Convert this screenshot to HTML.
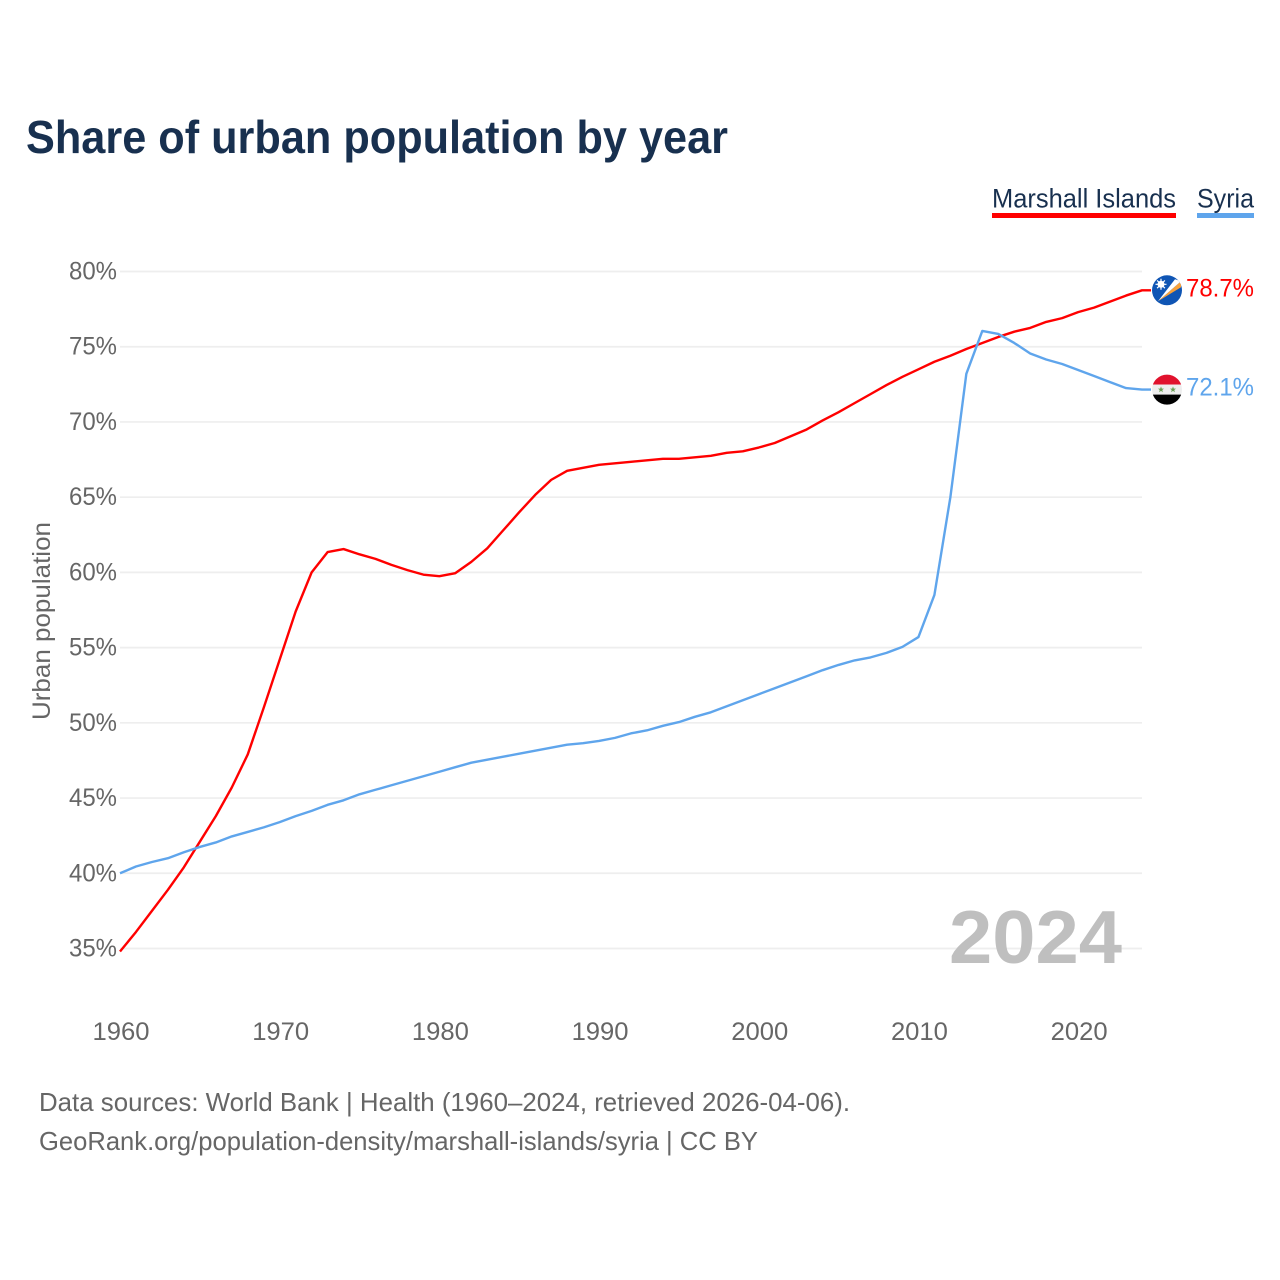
<!DOCTYPE html>
<html lang="en">
<head>
<meta charset="utf-8">
<title>Share of urban population by year</title>
<style>
html,body{margin:0;padding:0;background:#fff;width:1280px;height:1280px;overflow:hidden}
svg{display:block;font-family:"Liberation Sans",sans-serif}
</style>
</head>
<body>
<svg id="chart" xmlns="http://www.w3.org/2000/svg" width="1280" height="1280" viewBox="0 0 1280 1280">
  <defs>
    <clipPath id="flag-clip"><circle cx="0" cy="0" r="15"></circle></clipPath>
  </defs>
  <rect width="1280" height="1280" fill="#fff"></rect>
  <text x="26" y="153" font-size="46" font-weight="700" fill="#18304f" textLength="702" lengthAdjust="spacingAndGlyphs">Share of urban population by year</text>

  <g>
    <text x="992" y="207.5" font-size="27" fill="#18304f" textLength="184" lengthAdjust="spacingAndGlyphs">Marshall Islands</text>
    <rect x="992" y="213" width="184" height="5" fill="#ff0000"></rect>
  </g>
  <g>
    <text x="1197" y="207.5" font-size="27" fill="#18304f" textLength="57" lengthAdjust="spacingAndGlyphs">Syria</text>
    <rect x="1197" y="213" width="57" height="5" fill="#5fa5ec"></rect>
  </g>

  <text transform="translate(50,720) rotate(-90)" font-size="25" fill="#666" textLength="198" lengthAdjust="spacingAndGlyphs">Urban population</text>

  <g id="grid"></g>
  <g id="y-ticks"></g>
  <g id="x-ticks"></g>

  <text x="1122" y="963" text-anchor="end" font-size="75" font-weight="700" fill="#bfbfbf" textLength="173" lengthAdjust="spacingAndGlyphs">2024</text>

  <g id="series"></g>

  <g id="flag-marshall">
    <g clip-path="url(#flag-clip)">
      <rect x="-16" y="-16" width="32" height="32" fill="#0f55b4"></rect>
      <polygon points="-9,11 14,-9 14,-3" fill="#f7a13a"></polygon>
      <polygon points="-9,11 8,-11 14,-9" fill="#ffffff"></polygon>
      <circle cx="-6" cy="-6" r="3.5" fill="#fff"></circle>
      <path d="M-6,-11.5V-0.5M-11.5,-6H-0.5M-9.9,-9.9L-2.1,-2.1M-9.9,-2.1L-2.1,-9.9" stroke="#fff" stroke-width="1.2"></path>
    </g>
  </g>
  <g id="flag-syria">
    <g clip-path="url(#flag-clip)">
      <rect x="-16" y="-16" width="32" height="11" fill="#e1122d"></rect>
      <rect x="-16" y="-5" width="32" height="10" fill="#eeeeee"></rect>
      <rect x="-16" y="5" width="32" height="11" fill="#000000"></rect>
      <polygon points="-6,-3.2 -5.2,-1 -3,-1 -4.7,0.4 -4.1,2.6 -6,1.3 -7.9,2.6 -7.3,0.4 -9,-1 -6.8,-1" fill="#6a9f55"></polygon>
      <polygon points="6,-3.2 6.8,-1 9,-1 7.3,0.4 7.9,2.6 6,1.3 4.1,2.6 4.7,0.4 3,-1 5.2,-1" fill="#6a9f55"></polygon>
    </g>
  </g>

  <g id="end-labels"></g>

  <text x="39" y="1111" font-size="26" fill="#666" textLength="811" lengthAdjust="spacingAndGlyphs">Data sources: World Bank | Health (1960–2024, retrieved 2026-04-06).</text>
  <text x="39" y="1150" font-size="26" fill="#666" textLength="719" lengthAdjust="spacingAndGlyphs">GeoRank.org/population-density/marshall-islands/syria | CC BY</text>
</svg>
<script>
const years = [1960,1961,1962,1963,1964,1965,1966,1967,1968,1969,1970,1971,1972,1973,1974,1975,1976,1977,1978,1979,1980,1981,1982,1983,1984,1985,1986,1987,1988,1989,1990,1991,1992,1993,1994,1995,1996,1997,1998,1999,2000,2001,2002,2003,2004,2005,2006,2007,2008,2009,2010,2011,2012,2013,2014,2015,2016,2017,2018,2019,2020,2021,2022,2023,2024];
const marshallIslands = [34.8,36.1,37.5,38.9,40.4,42.1,43.8,45.7,47.9,51,54.2,57.4,60,61.35,61.55,61.2,60.9,60.5,60.15,59.85,59.75,59.95,60.7,61.6,62.8,64,65.15,66.15,66.75,66.95,67.15,67.25,67.35,67.45,67.55,67.55,67.65,67.75,67.95,68.05,68.3,68.6,69.05,69.5,70.1,70.65,71.25,71.85,72.45,73,73.5,74,74.4,74.85,75.25,75.65,76,76.25,76.65,76.9,77.3,77.6,78,78.4,78.75];
const syria = [40,40.45,40.75,41,41.4,41.75,42.05,42.45,42.75,43.05,43.4,43.8,44.15,44.55,44.85,45.25,45.55,45.85,46.15,46.45,46.75,47.05,47.35,47.55,47.75,47.95,48.15,48.35,48.55,48.65,48.8,49,49.3,49.5,49.8,50.05,50.4,50.7,51.1,51.5,51.9,52.3,52.7,53.1,53.5,53.85,54.15,54.35,54.65,55.05,55.7,58.5,65,73.2,76.05,75.85,75.25,74.55,74.15,73.85,73.45,73.05,72.65,72.25,72.15];
const yTickValues = [35,40,45,50,55,60,65,70,75,80];
const xTickValues = [1960,1970,1980,1990,2000,2010,2020];
const endLabelTexts = ['78.7%','72.1%'];

const NS = 'http://www.w3.org/2000/svg';
function xScale(year){ return 120 + (year - 1960) * (1022 / 64); }
function yScale(v){ return 948.5 - (v - 35) * (677 / 45); }
function make(tag, parent, attrs){
  const el = document.createElementNS(NS, tag);
  for (const k in attrs) el.setAttribute(k, attrs[k]);
  parent.appendChild(el);
  return el;
}

const grid = document.getElementById('grid');
const yTicksG = document.getElementById('y-ticks');
yTickValues.forEach(function(v){
  const line = make('line', grid, {x1:120, x2:1142, y1:yScale(v), y2:yScale(v), stroke:'#eeeeee', 'stroke-width':1.7});
  
  
  const t = make('text', yTicksG, {x:69, y:yScale(v)+8, 'font-size':25, fill:'#666', textLength:48, lengthAdjust:'spacingAndGlyphs'});
  
  
  t.textContent = v + '%';
});

const xTicksG = document.getElementById('x-ticks');
xTickValues.forEach(function(yr){
  const t = make('text', xTicksG, {x:xScale(yr)+1-28.5, y:1040, 'font-size':25, fill:'#666', textLength:57, lengthAdjust:'spacingAndGlyphs'});
  
  
  t.textContent = yr;
});

function linePath(values){
  let d = '';
  values.forEach(function(v, i){
    d += (i ? 'L' : 'M') + xScale(years[i]).toFixed(2) + ',' + yScale(v).toFixed(2);
  });
  const last = values[values.length - 1];
  return d + 'L' + (xScale(years[years.length - 1]) + 9).toFixed(2) + ',' + yScale(last).toFixed(2);
}

const seriesG = document.getElementById('series');
const redLine = make('path', seriesG, {d:linePath(marshallIslands), fill:'none', stroke:'#ff0000', 'stroke-width':2.4, 'stroke-linejoin':'round'});


const blueLine = make('path', seriesG, {d:linePath(syria), fill:'none', stroke:'#5fa5ec', 'stroke-width':2.4, 'stroke-linejoin':'round'});



const yMarshallEnd = yScale(marshallIslands[marshallIslands.length - 1]);
const ySyriaEnd = yScale(syria[syria.length - 1]);
document.getElementById('flag-marshall').setAttribute('transform', 'translate(1167,' + yMarshallEnd + ')');
document.getElementById('flag-syria').setAttribute('transform', 'translate(1167,' + ySyriaEnd + ')');

const endG = document.getElementById('end-labels');
const redLabel = make('text', endG, {x:1186, y:yMarshallEnd+6, 'font-size':25, fill:'#ff0000', textLength:68, lengthAdjust:'spacingAndGlyphs'});


redLabel.textContent = endLabelTexts[0];
const blueLabel = make('text', endG, {x:1186, y:ySyriaEnd+6, 'font-size':25, fill:'#5fa5ec', textLength:68, lengthAdjust:'spacingAndGlyphs'});


blueLabel.textContent = endLabelTexts[1];
</script>
</body>
</html>
